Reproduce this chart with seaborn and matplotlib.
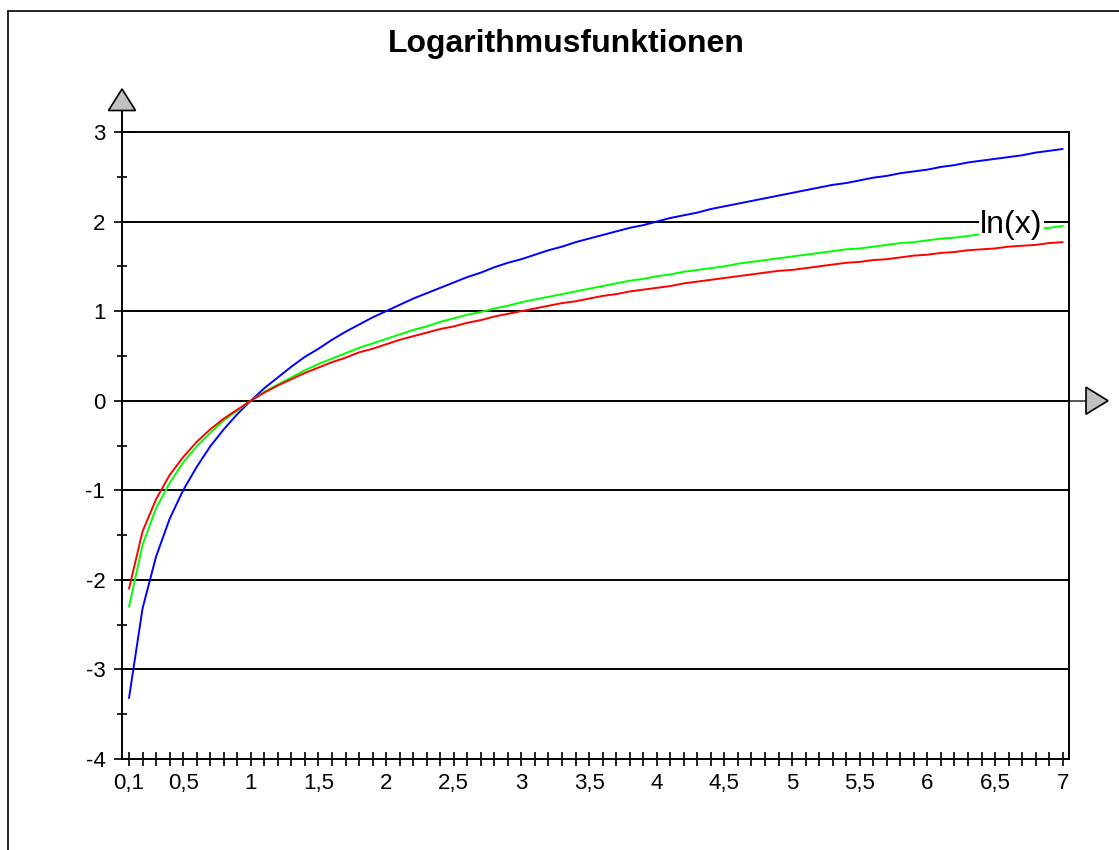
import matplotlib
matplotlib.use("Agg")
import matplotlib.pyplot as plt
from matplotlib.lines import Line2D
from matplotlib.patches import Polygon
import numpy as np
import pandas as pd
import seaborn as sns

# ---- data ----
x_values = [round(0.1 * i, 1) for i in range(1, 71)]

log2_values = [
    -3.32, -2.32, -1.74, -1.32, -1.00, -0.74, -0.51, -0.32, -0.15, 0.00,
    0.14, 0.26, 0.38, 0.49, 0.58, 0.68, 0.77, 0.85, 0.93, 1.00,
    1.07, 1.14, 1.20, 1.26, 1.32, 1.38, 1.43, 1.49, 1.54, 1.58,
    1.63, 1.68, 1.72, 1.77, 1.81, 1.85, 1.89, 1.93, 1.96, 2.00,
    2.04, 2.07, 2.10, 2.14, 2.17, 2.20, 2.23, 2.26, 2.29, 2.32,
    2.35, 2.38, 2.41, 2.43, 2.46, 2.49, 2.51, 2.54, 2.56, 2.58,
    2.61, 2.63, 2.66, 2.68, 2.70, 2.72, 2.74, 2.77, 2.79, 2.81,
]
ln_values = [
    -2.30, -1.61, -1.20, -0.92, -0.69, -0.51, -0.36, -0.22, -0.11, 0.00,
    0.10, 0.18, 0.26, 0.34, 0.41, 0.47, 0.53, 0.59, 0.64, 0.69,
    0.74, 0.79, 0.83, 0.88, 0.92, 0.96, 0.99, 1.03, 1.06, 1.10,
    1.13, 1.16, 1.19, 1.22, 1.25, 1.28, 1.31, 1.34, 1.36, 1.39,
    1.41, 1.44, 1.46, 1.48, 1.50, 1.53, 1.55, 1.57, 1.59, 1.61,
    1.63, 1.65, 1.67, 1.69, 1.70, 1.72, 1.74, 1.76, 1.77, 1.79,
    1.81, 1.82, 1.84, 1.86, 1.87, 1.89, 1.90, 1.92, 1.93, 1.95,
]
log3_values = [
    -2.10, -1.46, -1.10, -0.83, -0.63, -0.46, -0.32, -0.20, -0.10, 0.00,
    0.09, 0.17, 0.24, 0.31, 0.37, 0.43, 0.48, 0.54, 0.58, 0.63,
    0.68, 0.72, 0.76, 0.80, 0.83, 0.87, 0.90, 0.94, 0.97, 1.00,
    1.03, 1.06, 1.09, 1.11, 1.14, 1.17, 1.19, 1.22, 1.24, 1.26,
    1.28, 1.31, 1.33, 1.35, 1.37, 1.39, 1.41, 1.43, 1.45, 1.46,
    1.48, 1.50, 1.52, 1.54, 1.55, 1.57, 1.58, 1.60, 1.62, 1.63,
    1.65, 1.66, 1.68, 1.69, 1.70, 1.72, 1.73, 1.74, 1.76, 1.77,
]

series_names = ["log2(x)", "ln(x)", "log3(x)"]
series_colors = ["#0000ff", "#00ff00", "#ff0000"]

x_label_positions = [0.1, 0.5, 1, 1.5, 2, 2.5, 3, 3.5, 4, 4.5, 5, 5.5, 6, 6.5, 7]
x_label_texts = ["0,1", "0,5", "1", "1,5", "2", "2,5", "3", "3,5", "4", "4,5",
                 "5", "5,5", "6", "6,5", "7"]
y_major = [-4, -3, -2, -1, 0, 1, 2, 3]
y_minor = [-3.5, -2.5, -1.5, -0.5, 0.5, 1.5, 2.5]

title_text = "Logarithmusfunktionen"
curve_label = "ln(x)"

# ---- build long table ----
df = pd.concat([
    pd.DataFrame({"x": x_values, "y": log2_values, "fn": series_names[0]}),
    pd.DataFrame({"x": x_values, "y": ln_values, "fn": series_names[1]}),
    pd.DataFrame({"x": x_values, "y": log3_values, "fn": series_names[2]}),
], ignore_index=True)

sns.set_theme(style="white")
plt.rcParams["font.family"] = ["Liberation Sans", "DejaVu Sans"]

W, H = 1119, 850
fig = plt.figure(figsize=(W / 100, H / 100), dpi=100)
fig.patch.set_facecolor("white")

ax_l, ax_r, ax_t, ax_b = 122, 1069, 132, 759
ax = fig.add_axes([ax_l / W, (H - ax_b) / H, (ax_r - ax_l) / W, (ax_b - ax_t) / H])
ax.set_facecolor("white")

px_per_x = (1062.7 - 129) / 6.9
xmin = 0.1 - (129 - ax_l) / px_per_x
xmax = 7 + (ax_r - 1062.7) / px_per_x
ax.set_xlim(xmin, xmax)
ax.set_ylim(-4, 3)
px_per_y = (ax_b - ax_t) / 7.0

# grid lines
for v in [-3, -2, -1, 1, 2]:
    ax.axhline(v, color="black", lw=1.4, zorder=1)

sns.lineplot(data=df, x="x", y="y", hue="fn", palette=dict(zip(series_names, series_colors)),
             hue_order=series_names, legend=False, estimator=None, sort=False,
             lw=1.4, ax=ax, zorder=3)

# x axis line at y=0, extended to arrow
arrow_base_x = 7 + (1086 - 1062.7) / px_per_x
arrow_tip_x = 7 + (1108 - 1062.7) / px_per_x
ax.plot([xmin, xmax], [0, 0], color="black", lw=1.4, zorder=2)
ax.plot([xmax, arrow_base_x], [0, 0], color="#555555", lw=1.4, clip_on=False, zorder=2)
hh = 13.5 / px_per_y
ax.add_patch(Polygon([[arrow_base_x, -hh], [arrow_base_x, hh], [arrow_tip_x, 0]],
                     closed=True, facecolor="#c0c0c0", edgecolor="black", lw=1.2,
                     clip_on=False, zorder=5))

# y axis extended to up arrow
up_base_y = 3 + (ax_t - 110.5) / px_per_y
up_tip_y = 3 + (ax_t - 89) / px_per_y
hw = 13.5 / px_per_x
ax.plot([xmin, xmin], [3, up_base_y], color="black", lw=1.4, clip_on=False, zorder=2)
ax.add_patch(Polygon([[xmin - hw, up_base_y], [xmin + hw, up_base_y], [xmin, up_tip_y]],
                     closed=True, facecolor="#c0c0c0", edgecolor="black", lw=1.2,
                     clip_on=False, zorder=5))

# spines
for s in ["left", "right", "bottom", "top"]:
    ax.spines[s].set_visible(True)
    ax.spines[s].set_color("black")
    ax.spines[s].set_linewidth(1.4)

# ticks
x_ticks = x_values
label_map = {round(p, 1): t for p, t in zip(x_label_positions, x_label_texts)}
ax.set_xticks(x_ticks)
ax.set_xticklabels([label_map.get(round(v, 1), "") for v in x_ticks])
ax.set_yticks(y_major)
ax.set_yticklabels([str(v) for v in y_major])
ax.set_yticks(y_minor, minor=True)
ax.tick_params(axis="x", which="major", direction="inout", length=10, width=1.2,
               colors="black", labelsize=16, pad=5, bottom=True)
ax.tick_params(axis="y", which="major", direction="inout", length=12, width=1.2,
               colors="black", labelsize=16, pad=6, left=True)
ax.tick_params(axis="y", which="minor", direction="inout", length=6.5, width=1.2,
               colors="black", left=True)
ax.set_xlabel("")
ax.set_ylabel("")

# curve label with white background
ax.text(6.62, (400.8 - 233) / px_per_y, curve_label, fontsize=23, ha="center", va="baseline",
        color="black", zorder=6,
        bbox=dict(facecolor="white", edgecolor="none", pad=1))

# title
fig.text(566 / W, 1 - 52 / H, title_text, ha="center", va="baseline",
         fontsize=23, fontweight="bold", color="black")

# outer frame (left and top edges visible)
fig.add_artist(Line2D([8.3 / W, 8.3 / W], [0, 1 - 10.7 / H], transform=fig.transFigure,
                      color="black", lw=1.2))
fig.add_artist(Line2D([8.3 / W, 1], [1 - 10.7 / H, 1 - 10.7 / H], transform=fig.transFigure,
                      color="black", lw=1.2))

fig.savefig("out.png", dpi=100, facecolor="white")
